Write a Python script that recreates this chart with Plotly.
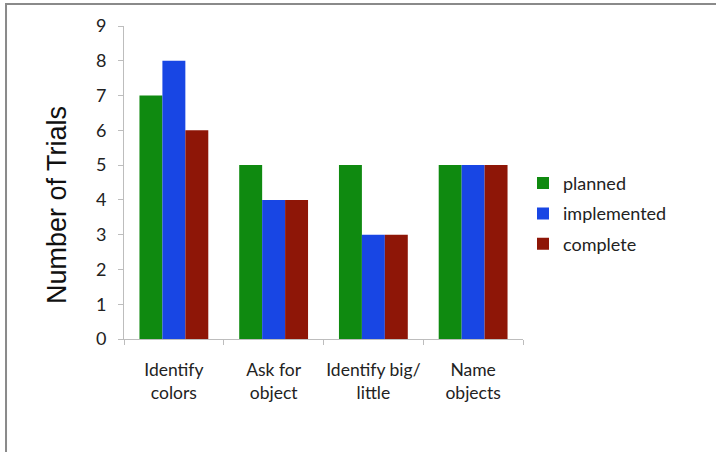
import plotly.graph_objects as go

categories = ["Identify<br>colors", "Ask for<br>object", "Identify big/<br>little", "Name<br>objects"]
planned = [7, 5, 5, 5]
implemented = [8, 4, 3, 5]
complete = [6, 4, 3, 5]
y_ticks = list(range(0, 10))

series = [
    ("planned", planned, "#0f8a10"),
    ("implemented", implemented, "#1846e4"),
    ("complete", complete, "#8e1607"),
]

fig = go.Figure()
for name, vals, color in series:
    fig.add_trace(go.Bar(
        x=categories, y=vals, name=name, legendgroup=name,
        marker=dict(color=color, line=dict(width=0)),
    ))

font_family = "Lato, 'Open Sans', sans-serif"

fig.update_layout(
    width=716, height=452,
    margin=dict(l=124, r=193, t=26, b=113),
    paper_bgcolor="white", plot_bgcolor="white",
    barmode="group", bargap=0.31, bargroupgap=0,
    font=dict(family=font_family, size=18, color="#222"),
    showlegend=True,
    legend=dict(
        x=1.0, y=0.40, xanchor="left", yanchor="middle",
        font=dict(size=18, color="#222"), tracegroupgap=4,
        itemwidth=30, bgcolor="rgba(0,0,0,0)",
    ),
    xaxis=dict(
        showline=True, linecolor="#bdbdbd", linewidth=1,
        ticks="outside", tickson="boundaries", ticklen=5, tickcolor="#bdbdbd",
        ticklabelstandoff=15, showgrid=False, tickangle=0, automargin=False,
        tickfont=dict(size=17.5, color="#222"),
    ),
    yaxis=dict(
        range=[0, 9], tickvals=y_ticks, showgrid=False, zeroline=False,
        showline=True, linecolor="#bdbdbd", linewidth=1,
        ticks="outside", ticklen=5, tickcolor="#bdbdbd",
        ticklabelstandoff=8, automargin=False,
        tickfont=dict(size=18, color="#222"),
    ),
    annotations=[dict(
        text="Number of Trials", xref="paper", yref="paper",
        x=-0.168, y=0.428, xanchor="center", yanchor="middle",
        textangle=-90, showarrow=False,
        font=dict(family="Liberation Sans, Arial, sans-serif", size=27, color="#111"),
    )],
    shapes=[dict(
        type="path", xref="paper", yref="paper",
        path="M -0.2957,-0.4 L -0.2957,1.0703 L 1.6,1.0703",
        line=dict(color="#8a8a8a", width=2),
    )],
)

fig.write_html("out.html")
